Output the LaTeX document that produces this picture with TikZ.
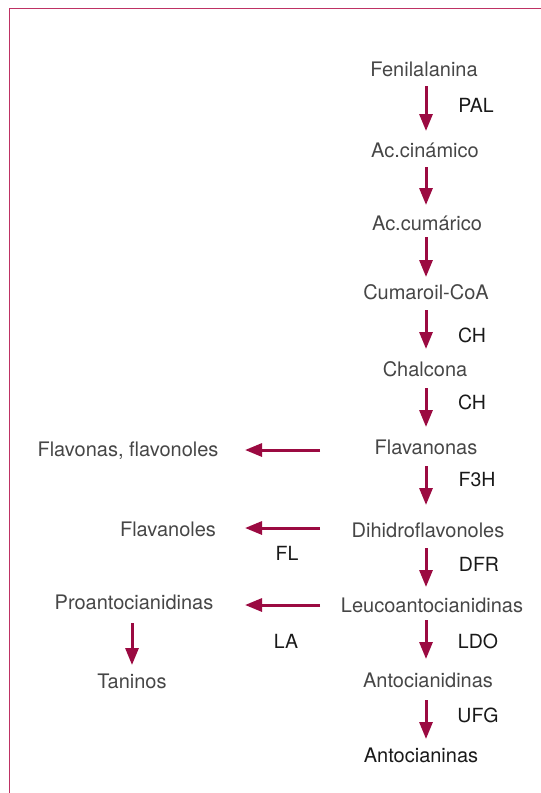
\documentclass[tikz,border=0pt]{standalone}
\usepackage{fontspec}
\setmainfont{TeX Gyre Heros}
\usetikzlibrary{arrows.meta,calc}
\definecolor{wine}{RGB}{155,10,65}
\definecolor{rim}{RGB}{190,50,100}
\definecolor{namegray}{RGB}{70,70,70}
\definecolor{enzgray}{RGB}{25,25,25}
\tikzset{
  cmp/.style={anchor=base, inner sep=0pt, text=namegray, font=\fontsize{20}{22}\selectfont},
  enzl/.style={cmp, text=enzgray, font=\fontsize{19.5}{22}\selectfont},
  arr/.style={draw=wine, line width=3pt, -{Triangle[length=17pt,width=13pt]}},
}
\begin{document}
\begin{tikzpicture}[x=1pt,y=-1pt]
\useasboundingbox (0,0) rectangle (541,793);
\draw[rim, line width=1.6pt] (541,8.5) -- (9.5,8.5) -- (9.5,793);
% axis coordinates
\coordinate (ax) at (426,0);
\coordinate (hs) at (320,0);
\coordinate (he) at (245,0);
% main column
\node[cmp] (fen) at (424,76) {Fenilalanina};
\node[enzl] (pal) at (476,112) {PAL};
\node[cmp] (cin) at (425,157) {Ac.cinámico};
\node[cmp] (cum) at (427,230) {Ac.cumárico};
\node[cmp] (coa) at (426,299) {Cumaroil-CoA};
\node[enzl] (ch1) at (472,342) {CH};
\node[cmp] (cha) at (425,376) {Chalcona};
\node[enzl] (ch2) at (472,409) {CH};
\node[cmp] (fla) at (426,454) {Flavanonas};
\node[enzl] (f3h) at (477,486) {F3H};
\node[cmp] (dih) at (428,537) {Dihidroflavonoles};
\node[enzl] (dfr) at (479,571) {DFR};
\node[cmp] (leu) at (432,612) {Leucoantocianidinas};
\node[enzl] (ldo) at (478,648) {LDO};
\node[cmp] (ant) at (428,687) {Antocianidinas};
\node[enzl] (ufg) at (478,722) {UFG};
\node[cmp, text=enzgray] (aci) at (421,762) {Antocianinas};
% side column
\node[cmp] (fvf) at (128,456) {Flavonas, flavonoles};
\node[cmp] (fln) at (168,536) {Flavanoles};
\node[enzl] (fl) at (287,560) {FL};
\node[cmp] (pro) at (134,609) {Proantocianidinas};
\node[enzl] (la) at (286,648) {LA};
\node[cmp] (tan) at (132,688) {Taninos};
% vertical arrows
\draw[arr] ($(fen.base -| ax)+(0,10)$) -- ($(cin.base -| ax)+(0,-26)$);
\draw[arr] ($(cin.base -| ax)+(0,10)$) -- ($(cum.base -| ax)+(0,-25)$);
\draw[arr] ($(cum.base -| ax)+(0,7)$) -- ($(coa.base -| ax)+(0,-22)$);
\draw[arr] ($(coa.base -| ax)+(0,11)$) -- ($(cha.base -| ax)+(0,-27)$);
\draw[arr] ($(cha.base -| ax)+(0,12)$) -- ($(fla.base -| ax)+(0,-27)$);
\draw[arr] ($(fla.base -| ax)+(0,12)$) -- ($(dih.base -| ax)+(0,-32)$);
\draw[arr] ($(dih.base -| ax)+(0,11)$) -- ($(leu.base -| ax)+(0,-25)$);
\draw[arr] ($(leu.base -| ax)+(0,8)$) -- ($(ant.base -| ax)+(0,-28)$);
\draw[arr] ($(ant.base -| ax)+(0,13)$) -- ($(aci.base -| ax)+(0,-23)$);
% horizontal arrows
\draw[arr] ($(fla.base -| hs)+(0,-4)$) -- ($(fvf.base -| he)+(0,-6)$);
\draw[arr] ($(dih.base -| hs)+(0,-9)$) -- ($(fln.base -| he)+(0,-8)$);
\draw[arr] ($(leu.base -| hs)+(0,-7)$) -- ($(pro.base -| he)+(0,-4)$);
% proantocianidinas -> taninos
\draw[arr] ($(pro.base -| tan.base)+(0,14)$) -- ($(tan.base)+(0,-23)$);
\end{tikzpicture}
\end{document}
